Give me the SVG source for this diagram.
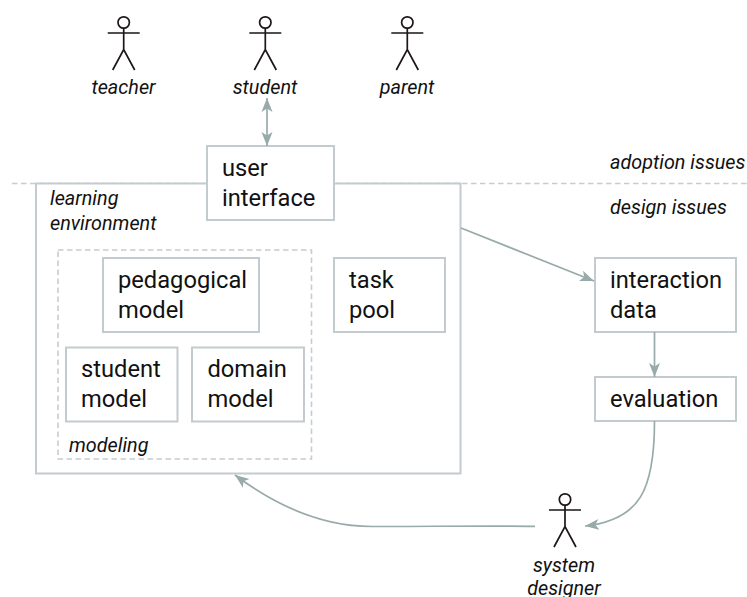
<svg xmlns="http://www.w3.org/2000/svg" xmlns:xlink="http://www.w3.org/1999/xlink" width="747" height="597" viewBox="0 0 747 597">
<style>
text{font-family:Roboto,"Liberation Sans",sans-serif;fill:#111}
.n{font-size:23.7px}
.i{font-size:19.8px;font-style:italic}
.b{fill:#fff;stroke:#c3cbce;stroke-width:2}
.d{fill:none;stroke:#c6cccf;stroke-width:1.6;stroke-dasharray:5.500 3.500}
.c{fill:none;stroke:#98aaaa;stroke-width:1.7}
.a{fill:none;stroke:#1d1616;stroke-width:1.7}
</style>
<defs>
<marker id="e" markerUnits="userSpaceOnUse" markerWidth="16" markerHeight="12" refX="14" refY="6" orient="auto-start-reverse"><path d="M0 0.5L14 6L0 11.5L3.5 6Z" fill="#98aaaa"/></marker>
<g id="actor"><circle cx="0" cy="-10.5" r="5.7" class="a" fill="#fff"/><path class="a" d="M0-4.8V16.5M-16 0H16M-11 37L0 16.5L11 37"/></g>
</defs>
<path class="d" d="M12 183.500H747"/>
<g id="learning-environment"><rect class="b" x="36" y="183.500" width="424.500" height="290"/><text class="i"><tspan x="50" y="205">learning</tspan><tspan x="50" y="230">environment</tspan></text></g>
<g id="modeling"><rect class="d" x="58" y="250" width="253.500" height="209"/><text class="i" x="69" y="452">modeling</text></g>
<g id="user-interface"><rect class="b" x="207" y="146" width="127" height="74"/><text class="n"><tspan x="222" y="176">user</tspan><tspan x="222" y="206">interface</tspan></text></g>
<g id="pedagogical-model"><rect class="b" x="103" y="258" width="156" height="74"/><text class="n"><tspan x="118" y="288">pedagogical</tspan><tspan x="118" y="318">model</tspan></text></g>
<g id="student-model"><rect class="b" x="66" y="347.500" width="111.500" height="74"/><text class="n"><tspan x="81" y="377">student</tspan><tspan x="81" y="407">model</tspan></text></g>
<g id="domain-model"><rect class="b" x="192" y="347.500" width="112" height="74"/><text class="n"><tspan x="207.500" y="377">domain</tspan><tspan x="207.500" y="407">model</tspan></text></g>
<g id="task-pool"><rect class="b" x="334" y="258" width="111" height="74"/><text class="n"><tspan x="349" y="288">task</tspan><tspan x="349" y="318">pool</tspan></text></g>
<g id="interaction-data"><rect class="b" x="595" y="258" width="141" height="74"/><text class="n"><tspan x="610" y="288">interaction</tspan><tspan x="610" y="318">data</tspan></text></g>
<g id="evaluation"><rect class="b" x="595" y="377" width="141" height="44"/><text class="n" x="610" y="407">evaluation</text></g>
<g id="teacher"><use href="#actor" x="123.700" y="33"/><text class="i" x="123.500" y="94" text-anchor="middle">teacher</text></g>
<g id="student"><use href="#actor" x="265.300" y="33"/><text class="i" x="265" y="94" text-anchor="middle">student</text></g>
<g id="parent"><use href="#actor" x="407.300" y="33"/><text class="i" x="407" y="94" text-anchor="middle">parent</text></g>
<g id="system-designer"><use href="#actor" x="565" y="510"/><text class="i" text-anchor="middle"><tspan x="564" y="572">system</tspan><tspan x="564" y="595">designer</tspan></text></g>
<text class="i" x="610" y="169">adoption issues</text>
<text class="i" x="610" y="214">design issues</text>
<g id="connectors">
<path class="c" d="M267 98V146" marker-start="url(#e)" marker-end="url(#e)"/>
<path class="c" d="M461 228L594 281" marker-end="url(#e)"/>
<path class="c" d="M654.500 332V377" marker-end="url(#e)"/>
<path class="c" d="M654.500 421C654.500 490 640 520 585 526" marker-end="url(#e)"/>
<path class="c" d="M535 526.300C490 525.500 430 526.500 372 526.500C320 526.500 275 505 235 475" marker-end="url(#e)"/>
</g>
</svg>
